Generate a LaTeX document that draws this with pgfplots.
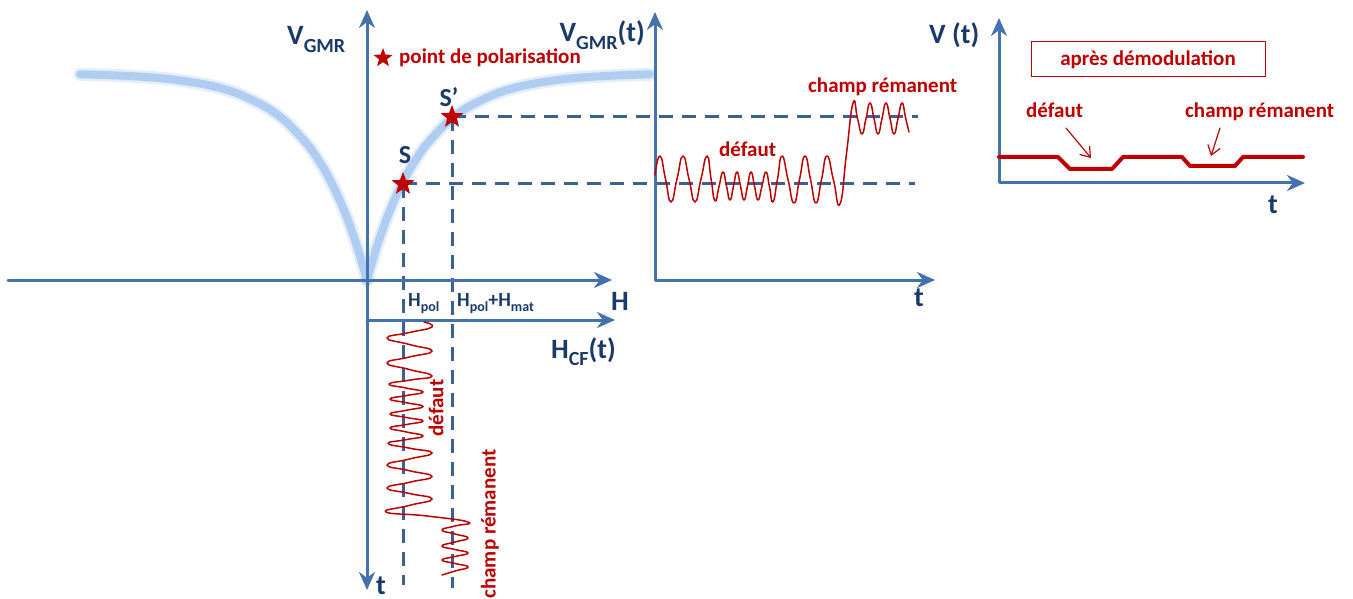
\documentclass[border=0pt]{standalone}
\usepackage{fontspec}
\setmainfont{Carlito}
\usepackage{pgfplots}
\pgfplotsset{compat=1.18}
\usetikzlibrary{arrows.meta}
\definecolor{axblue}{HTML}{4472AC}
\definecolor{dashblue}{HTML}{3A6096}
\definecolor{navy}{HTML}{1A3A6B}
\definecolor{darkred}{HTML}{C00000}
\definecolor{curveblue}{HTML}{AECDF1}
\newcommand{\fs}[1]{\fontsize{#1}{#1}\selectfont}
\newcommand{\sub}[2]{\raisebox{-0.28em}{\fs{#1}#2}}
\pgfdeclareplotmark{fstar}{%
 \pgfpathmoveto{\pgfpointpolar{90}{\pgfplotmarksize}}%
 \pgfpathlineto{\pgfpointpolar{126}{0.42\pgfplotmarksize}}%
 \pgfpathlineto{\pgfpointpolar{162}{\pgfplotmarksize}}%
 \pgfpathlineto{\pgfpointpolar{198}{0.42\pgfplotmarksize}}%
 \pgfpathlineto{\pgfpointpolar{234}{\pgfplotmarksize}}%
 \pgfpathlineto{\pgfpointpolar{270}{0.42\pgfplotmarksize}}%
 \pgfpathlineto{\pgfpointpolar{306}{\pgfplotmarksize}}%
 \pgfpathlineto{\pgfpointpolar{342}{0.42\pgfplotmarksize}}%
 \pgfpathlineto{\pgfpointpolar{18}{\pgfplotmarksize}}%
 \pgfpathlineto{\pgfpointpolar{54}{0.42\pgfplotmarksize}}%
 \pgfpathclose
 \pgfusepathqfill
}
\begin{document}
\begin{tikzpicture}
\begin{axis}[width=1353pt,height=599pt,scale only axis,
  xmin=0,xmax=1353,ymin=0,ymax=599,y dir=reverse,hide axis,clip=false,
  every axis plot/.append style={line cap=round,line join=round}]
\addplot[draw=none,forget plot] coordinates {(0,0)(1353,599)};
% GMR curve
\addplot[curveblue,opacity=0.35,line width=13pt,smooth] coordinates {(80,74.3)(127,75.9)(167,78.8)(207,84.9)(237,93.3)(267,107.7)(287,122.6)(307,143.9)(317,157.8)(327,174.3)(337,194.1)(347,217.9)(357,246.2)(367,280)};
\addplot[curveblue,opacity=0.35,line width=13pt,smooth] coordinates {(367,280)(377,246.2)(387,217.9)(397,194.1)(407,174.3)(417,157.8)(427,143.9)(447,122.6)(467,107.7)(497,93.3)(527,84.9)(567,78.8)(607,75.9)(650,74.3)};
\addplot[curveblue,line width=8pt,smooth] coordinates {(80,74.3)(127,75.9)(167,78.8)(207,84.9)(237,93.3)(267,107.7)(287,122.6)(307,143.9)(317,157.8)(327,174.3)(337,194.1)(347,217.9)(357,246.2)(367,280)};
\addplot[curveblue,line width=8pt,smooth] coordinates {(367,280)(377,246.2)(387,217.9)(397,194.1)(407,174.3)(417,157.8)(427,143.9)(447,122.6)(467,107.7)(497,93.3)(527,84.9)(567,78.8)(607,75.9)(650,74.3)};
% dashed projections
\addplot[dashblue,line width=3pt,line cap=butt,dash pattern=on 14pt off 9pt] coordinates {(403,184)(915,184)};
\addplot[dashblue,line width=3pt,line cap=butt,dash pattern=on 14pt off 9pt] coordinates {(452,117)(918,117)};
\addplot[dashblue,line width=3pt,line cap=butt,dash pattern=on 14pt off 9pt] coordinates {(403,184)(403,585)};
\addplot[dashblue,line width=3pt,line cap=butt,dash pattern=on 14pt off 9pt] coordinates {(452,117)(452,588)};
% axes
\addplot[axblue,line width=3pt,-{Stealth[length=18pt,width=16pt]}] coordinates {(8,280)(612,280)};
\addplot[axblue,line width=3pt,{Stealth[length=18pt,width=16pt]}-{Stealth[length=18pt,width=16pt]}] coordinates {(367,590)(367,10)};
\addplot[axblue,line width=3pt,-{Stealth[length=18pt,width=16pt]}] coordinates {(367,320)(615,320)};
\addplot[axblue,line width=3pt,{Stealth[length=18pt,width=16pt]}-{Stealth[length=18pt,width=16pt]}] coordinates {(655,12)(655,280)(935,280)};
\addplot[axblue,line width=3pt,{Stealth[length=18pt,width=16pt]}-{Stealth[length=18pt,width=16pt]}] coordinates {(999,18)(999,183)(1305,183)};
% V_GMR(t) signal
\addplot[darkred,line width=1.5pt,smooth,tension=0.9] coordinates {(655,175)(660,156)(665.5,179)(671,202)(677,179)(683,156)(689,179)(695,202)(701,179)(707,156)(711,178.5)(715,201)(719,186.5)(723,172)(726.5,186)(730,200)(733.5,186)(737,172)(740.5,186)(744,200)(747.5,186)(751,172)(754.5,186)(758,200)(762,186)(766,172)(769.5,187)(773,202)(777.5,179)(782,156)(788,179.5)(794,203)(799.5,179.5)(805,156)(810.5,179.5)(816,203)(821.5,179.5)(827,156)(833.5,180)(840,204)(846.5,153.5)(853,103)(857.5,118.5)(862,134)(866,118.5)(870,103)(874,118.5)(878,134)(882,118.5)(886,103)(890,118.5)(894,134)(898,118.5)(902,103)(905.5,117.5)(909,132)};
% H_CF(t) signal
\addplot[darkred,line width=1.5pt,smooth,tension=0.9] coordinates {(424,322)(432,327)(409.5,332.5)(387,338)(409.5,344.5)(432,351)(409.5,357)(387,363)(409.5,369.5)(432,376)(410.5,380)(389,384)(406,388)(423,392)(406.5,395.5)(390,399)(406.5,402.75)(423,406.5)(406.5,410.25)(390,414)(406.5,417.5)(423,421)(406.5,424.5)(390,428)(406.5,432)(423,436)(405.5,439.75)(388,443.5)(410,448.25)(432,453)(409.5,459)(387,465)(409.5,470.75)(432,476.5)(409.5,482.25)(387,488)(409.5,493.5)(432,499)(409,505.5)(386,512)(427,516)(468,522)(455,526)(442,530)(455,534)(468,538)(455,542)(442,546)(455,549.5)(468,553)(455,556.5)(442,560)(455,563.5)(468,567)(455,571)(442,575)};
% demodulated signal
\addplot[darkred,line width=4pt] coordinates {(999,157)(1058,157)(1070,169)(1112,169)(1123,157)(1182,157)(1190,166)(1235,166)(1243,157)(1303,157)};
\addplot[darkred,line width=1.2pt,-{Straight Barb[length=9pt,width=13pt]}] coordinates {(1066,128)(1091,158)};
\addplot[darkred,line width=1.2pt,-{Straight Barb[length=9pt,width=13pt]}] coordinates {(1220,128)(1211,156)};
% stars
\addplot[only marks,mark=fstar,mark size=12pt,darkred] coordinates {(403,184)(452,117)};
\addplot[only marks,mark=fstar,mark size=10pt,darkred] coordinates {(383,58)};
% labels
\node[navy,font=\bfseries\fs{28},anchor=base west,inner sep=0] at (axis cs:287,45) {V\sub{20}{GMR}};
\node[navy,font=\bfseries\fs{28},anchor=base east,inner sep=0] at (axis cs:645,42) {V\sub{20}{GMR}(t)};
\node[navy,font=\bfseries\fs{28},anchor=base west,inner sep=0] at (axis cs:929,44) {V (t)};
\node[darkred,font=\bfseries\fs{21},anchor=base west,inner sep=0] at (axis cs:399,64) {point de polarisation};
\node[navy,font=\bfseries\fs{26},anchor=base,inner sep=0] at (axis cs:405,164) {S};
\node[navy,font=\bfseries\fs{26},anchor=base,inner sep=0] at (axis cs:449,107) {S’};
\node[navy,font=\bfseries\fs{20},anchor=base west,inner sep=0] at (axis cs:408,306) {H\sub{14}{pol}};
\node[navy,font=\bfseries\fs{20},anchor=base west,inner sep=0] at (axis cs:457,306) {H\sub{14}{pol}+H\sub{14}{mat}};
\node[navy,font=\bfseries\fs{28},anchor=base west,inner sep=0] at (axis cs:611,310) {H};
\node[navy,font=\bfseries\fs{28},anchor=base west,inner sep=0] at (axis cs:551,358) {H\sub{20}{CF}(t)};
\node[navy,font=\bfseries\fs{28},anchor=base west,inner sep=0] at (axis cs:376,594) {t};
\node[navy,font=\bfseries\fs{28},anchor=base,inner sep=0] at (axis cs:919,306) {t};
\node[navy,font=\bfseries\fs{28},anchor=base,inner sep=0] at (axis cs:1273,213) {t};
\node[darkred,font=\bfseries\fs{21},anchor=base west,inner sep=0] at (axis cs:719,157) {défaut};
\node[darkred,font=\bfseries\fs{21},anchor=base west,inner sep=0] at (axis cs:808,93) {champ rémanent};
\node[darkred,font=\bfseries\fs{21},draw=darkred,line width=1pt,minimum width=234pt,minimum height=35pt,inner sep=0] at (axis cs:1148,59.5) {après démodulation};
\node[darkred,font=\bfseries\fs{21},anchor=base west,inner sep=0] at (axis cs:1026,118) {défaut};
\node[darkred,font=\bfseries\fs{21},anchor=base west,inner sep=0] at (axis cs:1185,118) {champ rémanent};
\node[darkred,font=\bfseries\fs{21},rotate=90,inner sep=0] at (axis cs:436,408) {défaut};
\node[darkred,font=\bfseries\fs{21},rotate=90,inner sep=0] at (axis cs:490,524) {champ rémanent};
\end{axis}
\end{tikzpicture}
\end{document}
